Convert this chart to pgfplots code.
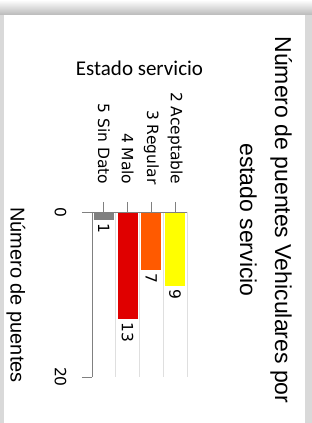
\documentclass[border=0pt]{standalone}
\usepackage{pgfplots}
\pgfplotsset{compat=1.18}
\usepackage{fontspec}
\setmainfont{Liberation Sans}
\newfontfamily\dejavu{DejaVu Sans}
\newfontfamily\carlito{Carlito}
\definecolor{cYellow}{HTML}{FFFF00}
\definecolor{cOrange}{HTML}{FF5A00}
\definecolor{cRed}{HTML}{E00000}
\definecolor{cGray}{HTML}{808080}
\begin{document}
\begin{tikzpicture}[x=1pt,y=1pt]
\path[use as bounding box] (0pt,0pt) rectangle (312pt,423pt);
\fill[gray!30] (0pt,0pt) rectangle (312pt,423pt);
\shade[top color=white, bottom color=gray!55] (0pt,408pt) rectangle (312pt,423pt);
\fill[white] (4pt,0pt) rectangle (305pt,408pt);
\begin{axis}[
  at={(139.5pt,128.5pt)}, anchor=center,
  width=95pt, height=165pt, scale only axis,
  xmin=-0.5, xmax=3.5, ymin=0, ymax=20, y dir=reverse,
  ybar, bar width=20pt,
  /pgf/number format/assume math mode=true,
  xtick={0,1,2,3},
  xticklabels={5 Sin Dato,4 Malo,3 Regular,2 Aceptable},
  ytick={0,20},
  minor xtick={0.5,1.5,2.5,3.5},
  xminorgrids=true,
  minor grid style={gray!25, line width=0.8pt},
  minor tick length=0pt,
  axis line style={draw=none},
  tick align=outside,
  major tick length=10pt,
  tick style={gray, line width=0.8pt},
  xtick pos=upper, ytick pos=lower,
  xticklabel shift=14pt,
  xticklabel style={rotate=-90, anchor=east, font=\dejavu\fontsize{15.5}{18}\selectfont},
  yticklabel style={xshift=-12pt, rotate=-90, anchor=north, font=\dejavu\fontsize{15.5}{18}\selectfont},
  nodes near coords,
  every node near coord/.append style={rotate=-90, anchor=west, font=\dejavu\fontsize{15.5}{18}\selectfont, black},
  clip=false,
]
\addplot[fill=cGray, draw=none, bar shift=0pt] coordinates {(0,1)};
\addplot[fill=cRed, draw=none, bar shift=0pt] coordinates {(1,13)};
\addplot[fill=cOrange, draw=none, bar shift=0pt] coordinates {(2,7)};
\addplot[fill=cYellow, draw=none, bar shift=0pt] coordinates {(3,9)};
\draw[gray, line width=0.8pt] (axis cs:-0.5,0) -- (axis cs:3.5,0);
\draw[gray, line width=0.8pt] (axis cs:-0.5,0) -- (axis cs:-0.5,20);
\end{axis}
\node[rotate=-90, align=center, font=\fontsize{23}{35}\selectfont] at (266pt,203pt) {Número de puentes Vehiculares por\\estado servicio};
\node[rotate=-90, font=\fontsize{20}{24}\selectfont] at (16pt,128pt) {Número de puentes};
\node[font=\carlito\fontsize{21}{24}\selectfont] at (139.5pt,355pt) {Estado servicio};
\end{tikzpicture}
\end{document}
